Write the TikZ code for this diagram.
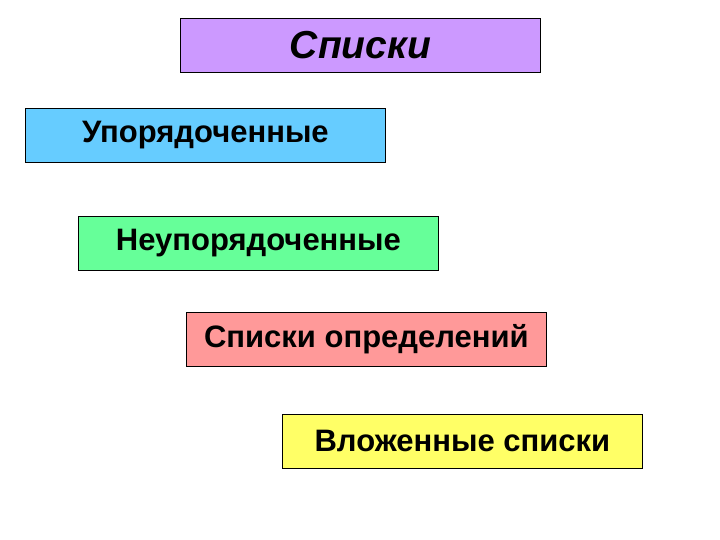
\documentclass[tikz,border=0pt]{standalone}
\usepackage{fontspec}
\setmainfont{Liberation Sans}
\begin{document}
\begin{tikzpicture}[x=1pt,y=-1pt,
  box/.style={draw=black,line width=0.8pt,minimum width=360pt,minimum height=54pt,inner sep=0pt,anchor=north west,font=\fontsize{31}{35}\selectfont\bfseries}]
\useasboundingbox (0,0) rectangle (720,540);
\definecolor{cpur}{HTML}{CC99FF}
\definecolor{cblu}{HTML}{66CCFF}
\definecolor{cgrn}{HTML}{66FF99}
\definecolor{cred}{HTML}{FF9999}
\definecolor{cyel}{HTML}{FFFF66}
\node[box,fill=cpur,font=\fontsize{39}{43}\selectfont\bfseries\itshape] (t) at (180,18) {Списки};
\node[box,fill=cblu] (a) at (25,108) {Упорядоченные};
\node[box,fill=cgrn] (b) at (78,216) {Неупорядоченные};
\node[box,fill=cred] (c) at (186,312) {Списки определений};
\node[box,fill=cyel] (d) at (282,414) {Вложенные списки};
\end{tikzpicture}
\end{document}
